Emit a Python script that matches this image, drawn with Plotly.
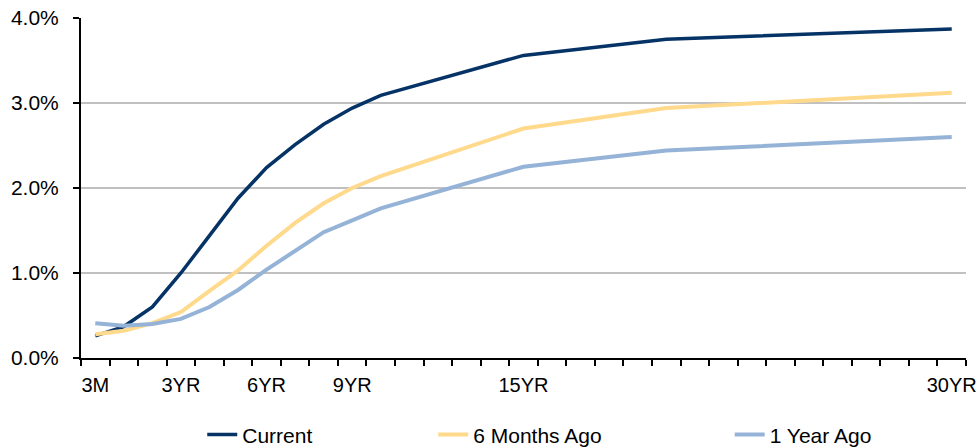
import plotly.graph_objects as go

# All 31 category slots of the x axis (3M, then 1YR..30YR)
categories = ["3M"] + [f"{i}YR" for i in range(1, 31)]
tick_labels = {"3M": "3M", "3YR": "3YR", "6YR": "6YR", "9YR": "9YR", "15YR": "15YR", "30YR": "30YR"}

# Maturities with data
maturities = ["3M", "1YR", "2YR", "3YR", "4YR", "5YR", "6YR", "7YR", "8YR", "9YR", "10YR", "15YR", "20YR", "30YR"]

current = [0.26, 0.37, 0.60, 1.00, 1.44, 1.88, 2.24, 2.51, 2.75, 2.94, 3.09, 3.56, 3.75, 3.87]
six_months_ago = [0.28, 0.32, 0.41, 0.54, 0.79, 1.03, 1.32, 1.59, 1.82, 2.00, 2.14, 2.70, 2.94, 3.12]
one_year_ago = [0.41, 0.38, 0.40, 0.46, 0.60, 0.80, 1.04, 1.26, 1.48, 1.62, 1.76, 2.25, 2.44, 2.60]

series = [
    ("Current", current, "#053366", 3.5, "legend"),
    ("6 Months Ago", six_months_ago, "#FFD98C", 4, "legend2"),
    ("1 Year Ago", one_year_ago, "#95B3D7", 4, "legend3"),
]

FONT = "Liberation Sans, Arial, sans-serif"

fig = go.Figure()
for name, vals, color, width, leg in series:
    fig.add_trace(go.Scatter(
        x=maturities, y=vals, name=name, mode="lines",
        line=dict(color=color, width=width),
        legend=leg,
    ))

legend_common = dict(
    orientation="h", yanchor="middle", y=-0.226, xanchor="left",
    font=dict(family=FONT, size=21, color="#000000"),
    bgcolor="rgba(0,0,0,0)", itemwidth=30,
)

fig.update_layout(
    width=979, height=448,
    margin=dict(l=81, r=13, t=18, b=90, autoexpand=False),
    paper_bgcolor="white", plot_bgcolor="white",
    font=dict(family=FONT, size=20, color="#000000"),
    showlegend=True,
    legend=dict(x=0.137, **legend_common),
    legend2=dict(x=0.398, **legend_common),
    legend3=dict(x=0.733, **legend_common),
    xaxis=dict(
        type="category",
        categoryorder="array", categoryarray=categories,
        range=[-0.5, 30.5],
        tickmode="array",
        tickvals=categories,
        ticktext=[tick_labels.get(c, "") for c in categories],
        tickson="boundaries",
        tickangle=0,
        ticks="outside", ticklen=6, tickwidth=1.5, tickcolor="#000000",
        showline=True, linecolor="#000000", linewidth=2,
        showgrid=False, zeroline=False, automargin=False,
        ticklabelstandoff=8,
        tickfont=dict(family=FONT, size=20),
    ),
    yaxis=dict(
        range=[0, 4], tickmode="array", tickvals=[0, 1, 2, 3, 4],
        ticktext=["0.0%", "1.0%", "2.0%", "3.0%", "4.0%"],
        ticks="outside", ticklen=6, tickwidth=1.5, tickcolor="#000000",
        showline=True, linecolor="#000000", linewidth=2,
        showgrid=True, gridcolor="#C0C0C0", gridwidth=1.5,
        zeroline=False, automargin=False,
        ticklabelstandoff=10,
        tickfont=dict(family=FONT, size=21),
    ),
)

fig.write_html(
    "out.html",
    config={"displayModeBar": False},
    post_script="document.body.style.margin='0';document.body.style.overflow='hidden';",
)
